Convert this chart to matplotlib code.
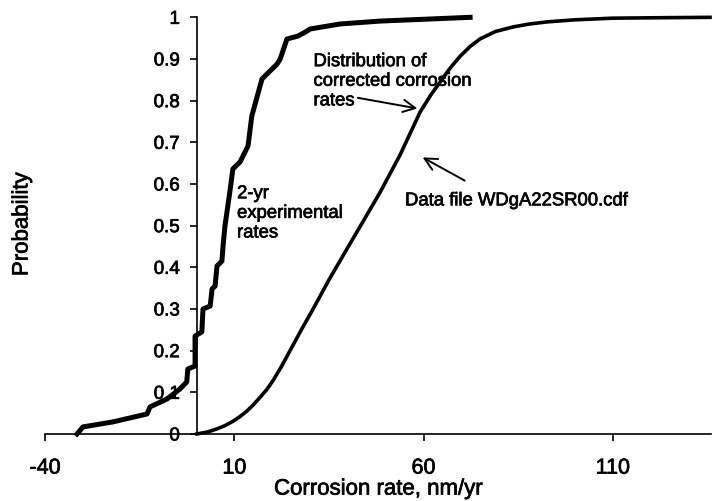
import matplotlib
matplotlib.use("Agg")

import matplotlib.pyplot as plt
import matplotlib.patheffects as pe

plt.rcParams["font.family"] = ["Liberation Sans", "DejaVu Sans"]
# scanned original has slightly heavy glyphs
plt.rcParams["path.effects"] = []

exp_rate = [-31.6, -30.0, -22.1, -13.1, -12.3, -7.8, -4.4, -2.6, -2.3, -0.4,
            -0.4, 1.4, 1.7, 3.6, 4.1, 4.9, 5.4, 6.7, 7.0, 7.5, 8.8, 9.6,
            11.5, 13.6, 14.6, 17.3, 18.6, 21.3, 22.1, 23.9, 26.8, 29.2,
            30.0, 37.9, 48.5, 72.3]
exp_prob = [0.0, 0.017, 0.029, 0.048, 0.065, 0.084, 0.108, 0.125, 0.156,
            0.163, 0.235, 0.245, 0.300, 0.307, 0.348, 0.355, 0.403, 0.415,
            0.451, 0.499, 0.581, 0.636, 0.653, 0.691, 0.763, 0.852, 0.864,
            0.888, 0.900, 0.948, 0.955, 0.967, 0.972, 0.984, 0.991, 1.0]

# corrected corrosion rates (WDgA22SR00.cdf)
corr_rate = [0.1, 3.0, 5.3, 7.5, 9.7, 11.5, 13.3, 15.0, 16.5, 18.5, 20.2,
             22.5, 25.0, 28.0, 30.8, 35.0, 39.8, 44.0, 48.5, 53.8, 59.1,
             62.0, 64.4, 67.0, 69.7, 72.3, 74.9, 79.0, 83.7, 88.0, 92.6,
             100.0, 110.1, 122.0, 135.7]
corr_prob = [0.0, 0.005, 0.012, 0.02, 0.031, 0.042, 0.055, 0.07, 0.085,
             0.106, 0.128, 0.163, 0.205, 0.255, 0.30, 0.37, 0.445, 0.51,
             0.58, 0.67, 0.773, 0.815, 0.845, 0.878, 0.907, 0.93, 0.948,
             0.966, 0.977, 0.984, 0.989, 0.994, 0.998, 0.999, 1.0]

x_ticks = [-40, 10, 60, 110]
y_ticks = [0, 0.1, 0.2, 0.3, 0.4, 0.5, 0.6, 0.7, 0.8, 0.9, 1]
y_tick_labels = ["0", "0.1", "0.2", "0.3", "0.4", "0.5", "0.6", "0.7",
                 "0.8", "0.9", "1"]

heavy = [pe.withStroke(linewidth=0.5, foreground="black")]

fig = plt.figure(figsize=(7.13, 5.02), dpi=100)
ax = fig.add_axes([0.0634, 0.1335, 0.934, 0.830])

ax.plot(exp_rate, exp_prob, color="black", lw=3.6, solid_joinstyle="round",
        clip_on=False)
ax.plot(corr_rate, corr_prob, color="black", lw=2.6,
        solid_joinstyle="round", clip_on=False)

ax.set_xlim(-40, 136)
ax.set_ylim(0, 1)

# Excel style: value axis crosses at x = 0
ax.spines["left"].set_position(("data", 0))
ax.spines["top"].set_visible(False)
ax.spines["right"].set_visible(False)
for s in ("left", "bottom"):
    ax.spines[s].set_linewidth(1.2)

ax.set_xticks(x_ticks)
ax.set_xticklabels([str(t) for t in x_ticks], fontsize=15.5)
ax.set_yticks(y_ticks)
ax.set_yticklabels(y_tick_labels, fontsize=13.5)
ax.tick_params(axis="x", direction="out", length=5, width=1.2, pad=12)
ax.tick_params(axis="y", direction="out", length=5, width=1.2, pad=7)

ax.set_xlabel("Corrosion rate, nm/yr", fontsize=16, labelpad=0)
fig.text(22 / 713, 1 - 225 / 502, "Probability", rotation=90, fontsize=16,
         ha="center", va="center")

ax.text(10.7, 0.597, "2-yr\nexperimental\nrates", fontsize=13.3,
        ha="left", va="top")
ax.text(30.9, 0.914, "Distribution of\ncorrected corrosion\nrates",
        fontsize=13.3, ha="left", va="top")
ax.annotate("", xy=(59.1, 0.78), xytext=(41.9, 0.808),
            arrowprops=dict(arrowstyle="->", lw=1.4, color="black",
                            mutation_scale=22))
ax.text(55.1, 0.58, "Data file WDgA22SR00.cdf", fontsize=13.3,
        ha="left", va="top")
ax.annotate("", xy=(59.1, 0.667), xytext=(71.5, 0.605),
            arrowprops=dict(arrowstyle="->", lw=1.4, color="black",
                            mutation_scale=22))

for t in fig.findobj(matplotlib.text.Text):
    t.set_path_effects(heavy)

fig.savefig("out.png", dpi=100)
